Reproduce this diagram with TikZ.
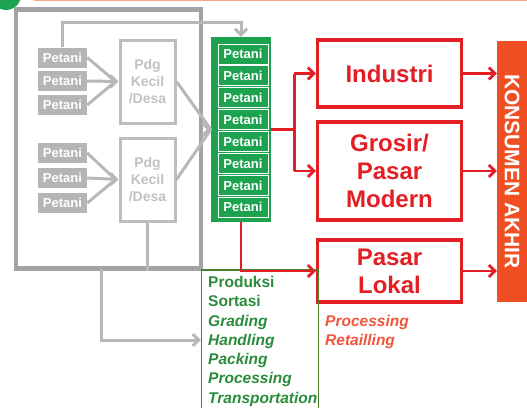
\documentclass[tikz,border=0pt]{standalone}
\usepackage{fontspec}
\setmainfont{Liberation Sans}
\usetikzlibrary{arrows.meta,calc}
\definecolor{redc}{HTML}{E31E24}
\definecolor{outergray}{HTML}{A3A3A3}
\definecolor{conngray}{HTML}{B8B8B8}
\definecolor{boxgray}{HTML}{B5B5B5}
\definecolor{pdggray}{HTML}{BDBDBD}
\definecolor{pdgtext}{HTML}{C2C2C2}
\definecolor{greenc}{HTML}{1DA34F}
\definecolor{prodgreen}{HTML}{2A8C3A}
\definecolor{prodline}{HTML}{4E7E2A}
\definecolor{konsc}{HTML}{F04E23}
\definecolor{proctext}{HTML}{F2553A}
\definecolor{topline}{HTML}{F5A582}
\begin{document}
\begin{tikzpicture}[x=1pt,y=-1pt,
  gbox/.style={fill=boxgray, text=white, font=\fontsize{13}{14}\selectfont\bfseries,
    minimum width=49pt, minimum height=20pt, inner sep=0pt},
  grnbox/.style={fill=greenc, draw=white, line width=1pt, text=white,
    font=\fontsize{13}{14}\selectfont\bfseries,
    minimum width=50pt, minimum height=20pt, inner sep=0pt},
  pdgbox/.style={draw=pdggray, line width=3pt, fill=white, text=pdgtext,
    font=\fontsize{14}{16.7}\selectfont\bfseries, align=center,
    minimum width=55pt, minimum height=83pt, inner sep=0pt},
  redbox/.style={draw=redc, line width=3.5pt, fill=white, text=redc,
    font=\fontsize{24}{28}\selectfont\bfseries, align=center,
    minimum width=144pt, inner sep=0pt},
  tip/.style={-{Straight Barb[length=6pt,width=12pt]}},
  gconn/.style={draw=conngray, line width=3pt},
  rconn/.style={draw=redc, line width=2.8pt},
]
\useasboundingbox (0,0) rectangle (527,407);
\clip (0,0) rectangle (527,407);

% top decoration
\draw[topline, line width=1.5pt] (34,0.5) -- (527,0.5);
\fill[greenc] (6,-5) circle (15);

% outer gray frame
\node[draw=outergray, line width=4.5pt, minimum width=185pt, minimum height=259pt, inner sep=0pt]
  (outer) at (108.5,139) {};

% gray petani boxes
\node[gbox] (gp1) at (62.5,57.5) {Petani};
\node[gbox] (gp2) at (62.5,81) {Petani};
\node[gbox] (gp3) at (62.5,105) {Petani};
\node[gbox] (gp4) at (62.5,153) {Petani};
\node[gbox] (gp5) at (62.5,178) {Petani};
\node[gbox] (gp6) at (62.5,203) {Petani};

% pedagang boxes
\node[pdgbox] (pdg1) at (147.5,81.5) {Pdg\\Kecil\\/Desa};
\node[pdgbox] (pdg2) at (147.5,179.5) {Pdg\\Kecil\\/Desa};

% green column
\node[fill=greenc, minimum width=60pt, minimum height=185pt, inner sep=0pt] (gcol) at (241,129.5) {};
\foreach \i in {0,...,7}{
  \node[grnbox] (gn\i) at (243,54+21.9*\i) {Petani};
}

% red boxes
\node[redbox, minimum height=67pt] (ind) at (389.5,73.5) {Industri};
\node[redbox, minimum height=98pt] (gro) at (389.5,171) {Grosir/\\Pasar\\Modern};
\node[redbox, minimum height=62pt] (lok) at (389.5,271) {Pasar\\Lokal};

% konsumen akhir
\node[fill=konsc, minimum width=30pt, minimum height=261pt, inner sep=0pt] (kon) at (512,171.5) {};
\node[text=white, rotate=-90, font=\fontsize{21}{24}\selectfont\bfseries] (kontext) at (kon.center) {KONSUMEN AKHIR};

% produksi box
\node[draw=prodline, line width=1.2pt, minimum width=117pt, minimum height=140pt, inner sep=0pt]
  (prod) at (260,340) {};
\node[anchor=north west, inner sep=0pt, align=left, text=prodgreen,
  font=\fontsize{15.5}{19.3}\selectfont\bfseries] (ptext) at (208,276)
  {Produksi\\Sortasi\\\textit{Grading}\\\textit{Handling}\\\textit{Packing}\\\textit{Processing}\\\textit{Transportation}};
\node[anchor=north west, inner sep=0pt, align=left, text=proctext,
  font=\fontsize{15.5}{19.3}\selectfont\bfseries\itshape] (rtext) at (325,315)
  {Processing\\Retailling};

% gray connectors
\coordinate (c1) at ($(pdg1.west)+(-3,0)$);
\coordinate (c2) at ($(pdg2.west)+(-3,0)$);
\draw[gconn] (gp1.east) -- (c1);
\draw[gconn, tip] (gp2.east) -- (pdg1.west);
\draw[gconn] (gp3.east) -- (c1);
\draw[gconn] (gp4.east) -- (c2);
\draw[gconn, tip] (gp5.east) -- (pdg2.west);
\draw[gconn] (gp6.east) -- (c2);
\draw[gconn] (pdg1.east) -- (gcol.west);
\draw[gconn] (pdg2.east) -- (gcol.west);
\draw[gconn, tip] ($(gcol.west)+(-4,0)$) -- (gcol.west);
\draw[gconn, tip] (gp1.north) -- ++(0,-25) -| (gcol.north);
\draw[gconn] (pdg2.south) -- (pdg2.south |- outer.south);
\coordinate (gdrop) at (101,268.5);
\draw[gconn, tip] (gdrop) |- (prod.west);

% red connectors
\draw[rconn] (gcol.east) -- ++(23,0) coordinate (rsplit);
\draw[rconn] (rsplit |- ind.west) -- (rsplit |- gro.west);
\draw[rconn, tip] (rsplit |- ind.west) -- (ind.west);
\draw[rconn, tip] (rsplit |- gro.west) -- (gro.west);
\draw[rconn, tip] (gcol.south) |- (lok.west);
\draw[rconn, tip] (ind.east) -- (ind.east -| kon.west);
\draw[rconn, tip] (gro.east) -- (gro.east -| kon.west);
\draw[rconn, tip] (lok.east) -- (lok.east -| kon.west);
\end{tikzpicture}
\end{document}
